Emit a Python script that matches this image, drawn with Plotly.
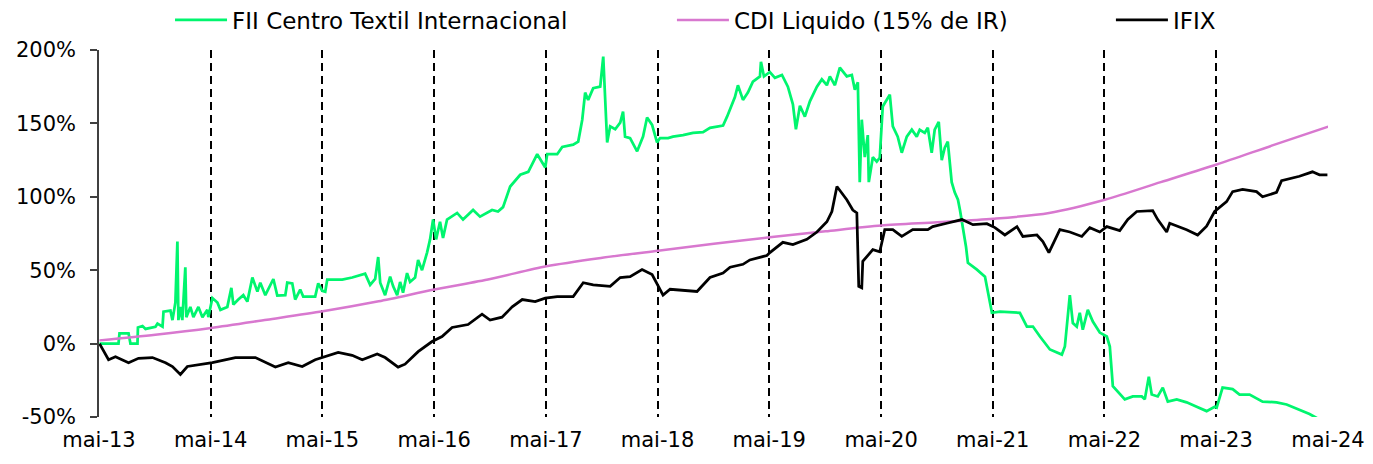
import pandas as pd
import plotly.graph_objects as go

# ---------------- data (decimal years, % return) ----------------
years_tick = list(range(2013, 2025))
tick_labels = ["mai-%02d" % (y % 100) for y in years_tick]

y_tick_vals = [-50, 0, 50, 100, 150, 200]
y_tick_text = ["-50%", "0%", "50%", "100%", "150%", "200%"]

ifix_t = [2013.333, 2013.414, 2013.476, 2013.593, 2013.682, 2013.807, 2013.924, 2013.986, 2014.058, 2014.120,
          2014.344, 2014.550, 2014.729, 2014.818, 2014.908, 2015.024, 2015.149, 2015.265, 2015.355, 2015.471,
          2015.596, 2015.686, 2015.820, 2015.891, 2016.008, 2016.070, 2016.187, 2016.312, 2016.401, 2016.491,
          2016.634, 2016.759, 2016.831, 2016.938, 2017.027, 2017.117, 2017.233, 2017.323, 2017.430, 2017.573,
          2017.663, 2017.752, 2017.904, 2017.994, 2018.083, 2018.190, 2018.280, 2018.333, 2018.378, 2018.441,
          2018.682, 2018.798, 2018.915, 2018.978, 2019.094, 2019.156, 2019.308, 2019.335, 2019.451, 2019.541,
          2019.666, 2019.756, 2019.845, 2019.890, 2019.935, 2020.024, 2020.078, 2020.114, 2020.131, 2020.158,
          2020.167, 2020.257, 2020.319, 2020.364, 2020.436, 2020.516, 2020.614, 2020.749, 2020.793, 2020.919,
          2021.053, 2021.151, 2021.276, 2021.348, 2021.437, 2021.545, 2021.598, 2021.724, 2021.777, 2021.831,
          2021.929, 2022.019, 2022.126, 2022.198, 2022.287, 2022.350, 2022.466, 2022.538, 2022.618, 2022.761,
          2022.806, 2022.886, 2022.913, 2023.065, 2023.164, 2023.244, 2023.316, 2023.423, 2023.477, 2023.566,
          2023.691, 2023.745, 2023.870, 2023.915, 2024.076, 2024.192, 2024.255, 2024.326]
ifix_v = [0, -11, -9, -13, -10, -9.5, -13, -15.6, -21, -15.6,
          -13, -9.5, -9.5, -13, -16, -13, -15.6, -11, -9, -6,
          -8, -11, -7, -9.5, -16, -14, -5.5, 1.4, 4.8, 11,
          13, 20, 16, 18, 25, 30, 28.6, 31, 32, 32,
          41.5, 40, 39, 45, 45.6, 50.4, 47, 39, 33, 37,
          35.5, 45, 48, 52, 54, 57, 60, 62, 69, 67.5,
          71, 76, 83, 90, 107, 98, 91, 89, 39, 38,
          56, 64, 62.6, 77.6, 77.6, 73, 77.6, 77.6, 79.7, 82,
          84.5, 81, 81.7, 79, 74, 79.7, 73, 74, 69.5, 62,
          77.6, 76, 73, 79, 76, 79.7, 77, 84.5, 90, 90.6,
          84.5, 76, 82, 77.6, 74, 80, 90, 96.7, 103.5, 105,
          103.5, 100, 103, 111, 114, 117, 115, 115]

cdi_t = [2013.333, 2013.833, 2014.333, 2014.833, 2015.333, 2015.833, 2016.333, 2016.833, 2017.333, 2017.833,
         2018.333, 2018.833, 2019.333, 2019.833, 2020.333, 2020.833, 2021.333, 2021.833, 2022.333, 2022.833,
         2023.333, 2023.833, 2024.333]
cdi_v = [2.2, 6.1, 10.7, 16.3, 22, 28.8, 36.8, 44, 52.7, 58.5,
         63.3, 68, 72.4, 76.5, 80.4, 82.6, 85, 89, 98, 110,
         122, 135, 147.8]

fii_t = [2013.333, 2013.503, 2013.512, 2013.593, 2013.610, 2013.673, 2013.677, 2013.718, 2013.745, 2013.834,
         2013.852, 2013.897, 2013.906, 2013.968, 2013.986, 2014.013, 2014.031, 2014.040, 2014.058, 2014.075,
         2014.102, 2014.111, 2014.147, 2014.174, 2014.219, 2014.255, 2014.299, 2014.308, 2014.344, 2014.389,
         2014.416, 2014.478, 2014.514, 2014.532, 2014.576, 2014.621, 2014.657, 2014.702, 2014.747, 2014.773,
         2014.818, 2014.845, 2014.890, 2014.925, 2014.997, 2015.015, 2015.060, 2015.086, 2015.131, 2015.158,
         2015.265, 2015.292, 2015.328, 2015.355, 2015.373, 2015.507, 2015.596, 2015.712, 2015.757, 2015.802,
         2015.829, 2015.847, 2015.891, 2015.936, 2015.963, 2015.999, 2016.026, 2016.052, 2016.088, 2016.115,
         2016.160, 2016.187, 2016.222, 2016.267, 2016.294, 2016.321, 2016.348, 2016.383, 2016.410, 2016.446,
         2016.536, 2016.589, 2016.679, 2016.741, 2016.849, 2016.902, 2016.947, 2017.009, 2017.099, 2017.171,
         2017.251, 2017.323, 2017.340, 2017.430, 2017.475, 2017.573, 2017.618, 2017.654, 2017.680, 2017.707,
         2017.752, 2017.815, 2017.842, 2017.877, 2017.904, 2017.949, 2017.994, 2018.020, 2018.038, 2018.083,
         2018.146, 2018.199, 2018.235, 2018.280, 2018.324, 2018.351, 2018.423, 2018.467, 2018.557, 2018.646,
         2018.736, 2018.798, 2018.915, 2018.951, 2018.995, 2019.022, 2019.049, 2019.094, 2019.138, 2019.183,
         2019.246, 2019.255, 2019.282, 2019.335, 2019.380, 2019.443, 2019.496, 2019.541, 2019.568, 2019.604,
         2019.648, 2019.693, 2019.756, 2019.800, 2019.845, 2019.872, 2019.917, 2019.961, 2020.024, 2020.069,
         2020.096, 2020.123, 2020.140, 2020.158, 2020.185, 2020.212, 2020.221, 2020.257, 2020.292, 2020.319,
         2020.346, 2020.409, 2020.436, 2020.480, 2020.516, 2020.561, 2020.606, 2020.650, 2020.677, 2020.722,
         2020.749, 2020.784, 2020.811, 2020.847, 2020.874, 2020.901, 2020.928, 2020.963, 2020.990, 2021.017,
         2021.035, 2021.062, 2021.089, 2021.106, 2021.187, 2021.259, 2021.285, 2021.321, 2021.393, 2021.509,
         2021.571, 2021.634, 2021.688, 2021.751, 2021.840, 2021.947, 2021.974, 2022.019, 2022.046, 2022.081,
         2022.108, 2022.135, 2022.180, 2022.225, 2022.287, 2022.350, 2022.377, 2022.404, 2022.448, 2022.511,
         2022.583, 2022.663, 2022.690, 2022.726, 2022.752, 2022.806, 2022.851, 2022.896, 2022.976, 2023.065,
         2023.155, 2023.244, 2023.316, 2023.334, 2023.387, 2023.477, 2023.539, 2023.629, 2023.745, 2023.870,
         2023.960, 2024.076, 2024.166, 2024.255]
fii_v = [0, 0, 7, 7, 0, 0, 11, 12, 10, 11.5,
         13.6, 11.5, 21.8, 22.5, 16, 28, 69.5, 16, 25, 16,
         52, 18, 25, 18, 25, 18, 23, 18, 31, 28,
         23, 25, 38, 26.6, 30, 33, 28.6, 45, 35.4, 41.5,
         33, 36.8, 44, 32.7, 33, 41.5, 41, 30, 36.8, 32,
         32, 41, 36, 35.4, 43.6, 43.6, 45, 47.7, 40, 44,
         59, 41.5, 33, 45.6, 39, 33, 42, 34.7, 48, 42,
         45, 57, 50, 62, 71, 84.5, 71, 83, 72, 84.5,
         89, 84.5, 91, 86.5, 91, 90, 93, 107, 115, 117,
         129, 120, 129, 129, 134, 135.5, 137.6, 152.5, 171, 166,
         174, 175, 195.5, 137, 148, 146, 150.5, 158, 141, 140,
         131, 141, 154, 149, 137, 140, 140, 141, 142, 143.6,
         144, 147, 148.5, 154.6, 163, 168, 176, 166, 171, 178.5,
         182, 192, 182, 185, 181, 183, 175, 163, 146, 162,
         154.6, 165, 175, 180, 176, 182, 176, 188, 182, 183,
         173, 178, 110, 152.5, 127, 142, 110, 127, 124, 126.6,
         161.5, 169.6, 148, 141, 130, 141, 145.7, 141, 145.7, 143.6,
         147, 130, 145.7, 151, 125, 133.5, 137.6, 110, 103, 98,
         91, 79.7, 66, 55, 50.4, 45.6, 34.7, 21, 21.8, 21,
         21, 11.6, 11.6, 4.8, -4, -7.5, -2, 33, 14, 11.6,
         21, 9.5, 23, 15, 7.5, 4.8, -2, -29, -33, -38,
         -36, -36, -38, -22.5, -34.7, -36, -30, -39.5, -38, -40,
         -43, -46, -43, -43.6, -30, -31, -34.7, -34.7, -39.5, -40,
         -41.5, -45, -48, -51.7]

series_names = ["FII Centro Textil Internacional", "CDI Liquido (15% de IR)", "IFIX"]
series_colors = ["#00F56E", "#D878CF", "#000000"]


def to_dates(dec_years):
    out = []
    for y in dec_years:
        yr = int(y)
        out.append(pd.Timestamp(year=yr, month=1, day=1) + pd.Timedelta(days=(y - yr) * 365.25))
    return out


tick_dates = [pd.Timestamp(year=y, month=5, day=1) for y in years_tick]

FONT = "DejaVu Sans"

fig = go.Figure()
fig.add_trace(go.Scatter(x=to_dates(fii_t), y=fii_v, mode="lines", name=series_names[0],
                         line=dict(color=series_colors[0], width=2.75), legend="legend"))
fig.add_trace(go.Scatter(x=to_dates(cdi_t), y=cdi_v, mode="lines", name=series_names[1],
                         line=dict(color=series_colors[1], width=2.5, shape="spline", smoothing=0.8),
                         legend="legend2"))
fig.add_trace(go.Scatter(x=to_dates(ifix_t), y=ifix_v, mode="lines", name=series_names[2],
                         line=dict(color=series_colors[2], width=2.75), legend="legend3"))

leg_common = dict(orientation="h", yanchor="middle", y=0.9737, yref="container",
                  xanchor="left", xref="container",
                  font=dict(family=FONT, size=23, color="#000000"),
                  bgcolor="rgba(0,0,0,0)", itemwidth=52)
fig.update_layout(
    width=1365, height=456,
    margin=dict(l=91, r=45, t=42, b=47, autoexpand=False),
    paper_bgcolor="white", plot_bgcolor="white",
    showlegend=True,
    legend=dict(leg_common, x=0.1187),
    legend2=dict(leg_common, x=0.4864),
    legend3=dict(leg_common, x=0.808),
    font=dict(family=FONT, size=21, color="#000000"),
)
fig.update_xaxes(
    type="date", automargin=False,
    range=[tick_dates[0], tick_dates[-1]],
    tickvals=tick_dates, ticktext=tick_labels,
    showgrid=True, gridcolor="#000000", gridwidth=1.5, griddash="8px,5px",
    showline=False, zeroline=False, ticks="", ticklabelstandoff=8,
    tickfont=dict(family=FONT, size=21, color="#000000"),
)
fig.update_yaxes(
    range=[-50, 200], automargin=False,
    tickvals=y_tick_vals, ticktext=y_tick_text,
    showgrid=False, zeroline=False,
    showline=True, linecolor="#404040", linewidth=1.5,
    ticks="outside", ticklen=7, tickcolor="#404040", tickwidth=1.5, ticklabelstandoff=10,
    tickfont=dict(family=FONT, size=21, color="#000000"),
)

fig.write_html("out.html")
